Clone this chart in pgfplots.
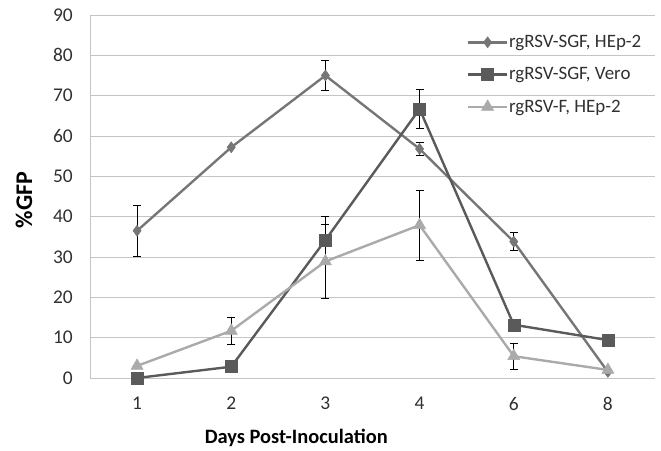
\documentclass[border=0pt]{standalone}
\usepackage{fontspec}
\setmainfont{Carlito}
\usepackage{pgfplots}
\pgfplotsset{compat=1.18}
\definecolor{cA}{HTML}{767676}
\definecolor{cB}{HTML}{5A5A5A}
\definecolor{cC}{HTML}{AAAAAA}
\definecolor{gridc}{HTML}{C4C4C4}
\definecolor{tickc}{HTML}{303030}
\begin{document}
\begin{tikzpicture}
\begin{axis}[
  name=a,
  scale only axis,
  width=565bp, height=363bp,
  xmin=0.5, xmax=6.5, ymin=0, ymax=90,
  xtick={1,2,3,4,5,6}, xticklabels={1,2,3,4,6,8},
  ytick={0,10,...,90},
  /pgf/number format/assume math mode=true,
  major tick length=0pt,
  axis lines*=left,
  axis line style={gridc, line width=0.9pt},
  ymajorgrids, grid style={gridc, line width=0.9pt},
  tick label style={font=\fontsize{19.5}{22}\selectfont, text=tickc, inner sep=0pt},
  xticklabel style={anchor=north, yshift=-19bp},
  yticklabel style={anchor=east, xshift=-17bp},
  ylabel={\%GFP},
  ylabel style={font=\fontsize{24}{28}\selectfont\bfseries, text=black, at={(axis description cs:-0.117,0.49)}, anchor=center, rotate=0},
  xlabel={Days Post-Inoculation},
  xlabel style={font=\fontsize{20.5}{24}\selectfont\bfseries, text=black, at={(axis description cs:0.365,-0.165)}, anchor=center},
  legend style={at={(rel axis cs:0.978,0.947)}, anchor=north east, draw=none, fill=none,
    font=\fontsize{19}{22}\selectfont, text=tickc, row sep=16.5bp, inner sep=0pt,
    nodes={inner sep=1pt}},
  legend cell align=left,
  legend image code/.code={\draw[mark repeat=2,mark phase=2] plot coordinates {(0cm,0cm) (0.68cm,0cm) (1.36cm,0cm)};},
  error bars/error bar style={black, line width=0.9pt},
  error bars/error mark options={black, rotate=90, mark size=4bp, line width=0.9pt},
  clip=false,
]
\addplot[cA, line width=2.4pt, mark=diamond*, mark size=5.5bp, mark options={solid, fill=cA, line width=0.5pt},
  error bars/.cd, y dir=both, y explicit]
  table[x=x, y=y, y error=e] {
x y e
1 36.5 6.3
2 57.2 0
3 75.0 3.8
4 56.8 1.5
5 33.8 2.3
6 1.5 0
};
\addlegendentry{rgRSV-SGF, HEp-2}
\addplot[cB, line width=2.4pt, mark=square*, mark size=6bp, mark options={solid, fill=cB, line width=0.5pt},
  error bars/.cd, y dir=both, y explicit]
  table[x=x, y=y, y error=e] {
x y e
1 0.0 0
2 2.8 0
3 34.2 5.8
4 66.7 4.9
5 13.2 0
6 9.4 0
};
\addlegendentry{rgRSV-SGF, Vero}
\addplot[cC, line width=2.4pt, mark=triangle*, mark size=7bp, mark options={solid, fill=cC, line width=0.5pt},
  error bars/.cd, y dir=both, y explicit]
  table[x=x, y=y, y error=e] {
x y e
1 3.0 0
2 11.7 3.3
3 28.9 9.2
4 37.9 8.7
5 5.4 3.2
6 2.0 0
};
\addlegendentry{rgRSV-F, HEp-2}
\end{axis}
\pgfresetboundingbox
\path[use as bounding box] ([xshift=-90bp,yshift=-73bp]a.south west) rectangle ([xshift=6bp,yshift=15bp]a.north east);
\end{tikzpicture}
\end{document}
